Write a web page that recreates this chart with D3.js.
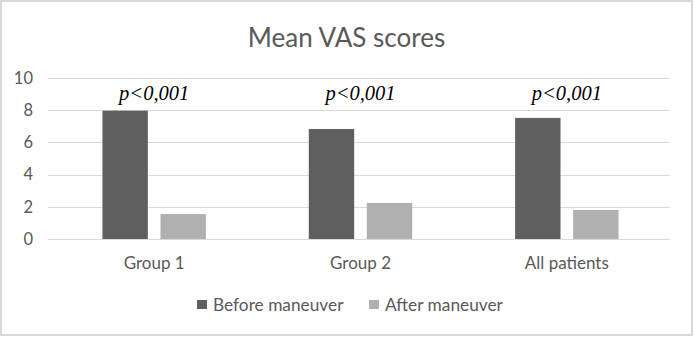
<!DOCTYPE html>
<html><head><meta charset="utf-8">
<script src="https://cdn.jsdelivr.net/npm/d3@7"></script>
<style>body{margin:0;background:#fff}svg{display:block}</style>
</head><body>
<div id="chart"></div>
<script>
const categories = ["Group 1", "Group 2", "All patients"];
const seriesNames = ["Before maneuver", "After maneuver"];
const beforeValues = [7.97, 6.83, 7.52];
const afterValues = [1.55, 2.24, 1.8];
const pLabels = ["p<0,001", "p<0,001", "p<0,001"];
const yTicks = [0, 2, 4, 6, 8, 10];
const colors = ["#5f5f5f", "#b0b0b0"];

(function () {
const W = 694, H = 337;
const svg = d3.select("#chart").append("svg").attr("width", W).attr("height", H);
svg.append("rect").attr("x", 1).attr("y", 1).attr("width", W - 3).attr("height", H - 3)
  .attr("fill", "#fff").attr("stroke", "#d9d9d9").attr("stroke-width", 2);

const gridL = 48, gridR = 670, plotTop = 78, plotBottom = 239;
const x = d3.scaleBand().domain(categories).range([51, 670]);
const x1 = d3.scaleBand().domain(seriesNames).range([0, x.bandwidth()]).paddingInner(0.218).paddingOuter(0.887);
const y = d3.scaleLinear().domain([0, 10]).range([plotBottom, plotTop]);

const font = "Lato, 'Open Sans', sans-serif";
const textColor = "#595959";

svg.append("g").selectAll("line").data(yTicks).join("line")
  .attr("x1", gridL).attr("x2", gridR)
  .attr("y1", d => Math.round(y(d)) + 0.5).attr("y2", d => Math.round(y(d)) + 0.5)
  .attr("stroke", "#d9d9d9").attr("stroke-width", 1);

const yAxis = d3.axisLeft(y).tickValues(yTicks).tickSize(0).tickPadding(0);
const gy = svg.append("g").attr("transform", `translate(33,0)`).call(yAxis);
gy.select(".domain").remove();
gy.selectAll("text").attr("font-family", font).attr("font-size", 16.5).attr("fill", textColor);

const data = categories.map((c, i) => ({cat: c, vals: [beforeValues[i], afterValues[i]]}));
const groups = svg.append("g").selectAll("g").data(data).join("g")
  .attr("transform", d => `translate(${x(d.cat)},0)`);
groups.selectAll("rect").data(d => d.vals.map((v, j) => ({name: seriesNames[j], v, j}))).join("rect")
  .attr("x", d => x1(d.name)).attr("width", x1.bandwidth())
  .attr("y", d => y(d.v)).attr("height", d => y(0) - y(d.v))
  .attr("fill", d => colors[d.j]);

svg.append("g").selectAll("text").data(categories).join("text")
  .attr("x", d => x(d) + x.bandwidth() / 2).attr("y", 100)
  .attr("text-anchor", "middle").attr("font-family", "'Liberation Serif', 'DejaVu Serif', serif")
  .attr("font-style", "italic").attr("font-size", 20.5).attr("fill", "#000")
  .text((d, i) => pLabels[i]);

const xAxis = d3.axisBottom(x).tickSize(0).tickPadding(0);
const gx = svg.append("g").attr("transform", `translate(0,${plotBottom + 18})`).call(xAxis);
gx.select(".domain").remove();
gx.selectAll("text").attr("font-family", font).attr("font-size", 17).attr("fill", textColor);

svg.append("text").attr("x", 346.5).attr("y", 47).attr("text-anchor", "middle")
  .attr("font-family", font).attr("font-size", 26).attr("fill", textColor).text("Mean VAS scores");

const legendX = [197, 369];
const lg = svg.append("g").selectAll("g").data(seriesNames).join("g")
  .attr("transform", (d, i) => `translate(${legendX[i]},300)`);
lg.append("rect").attr("width", 10).attr("height", 9).attr("fill", (d, i) => colors[i]);
lg.append("text").attr("x", 16).attr("y", 11).attr("font-family", font).attr("font-size", 17.3)
  .attr("fill", textColor).text(d => d);
})();
</script>
</body></html>
